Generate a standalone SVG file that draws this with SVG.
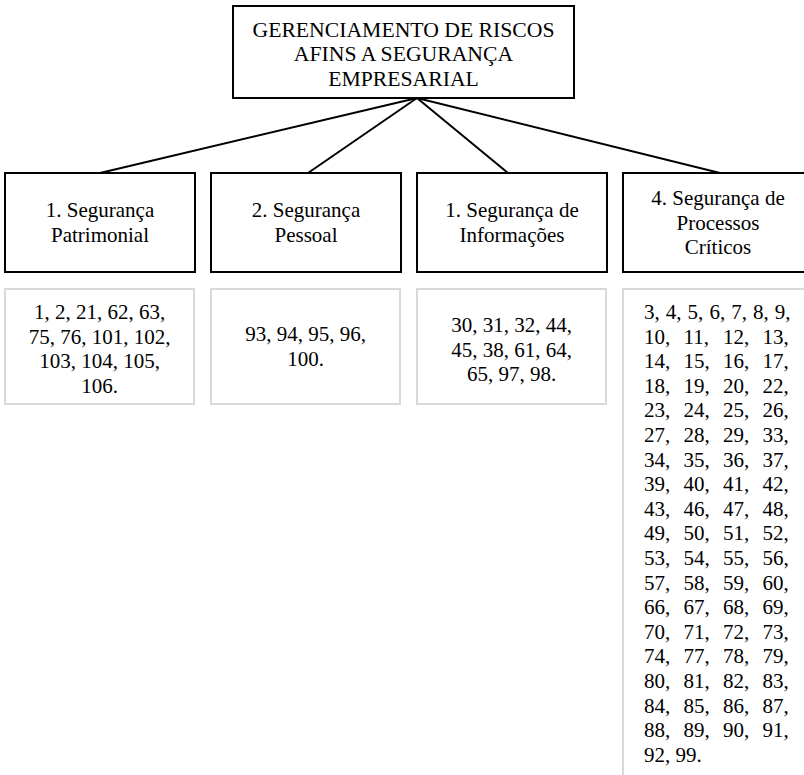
<svg xmlns="http://www.w3.org/2000/svg" width="804" height="775" viewBox="0 0 804 775" font-family="'Liberation Serif', 'Times New Roman', Times, 'DejaVu Serif', serif">
  <style>
    text { font-family: "Liberation Serif", "Times New Roman", Times, "DejaVu Serif", serif; font-size: 21px; fill: #000; }
    .c { text-anchor: middle; }
    .title { font-size: 21.7px; }
    .box { fill: #fff; stroke: #000; stroke-width: 2; }
    .list { fill: #fff; stroke: #d9d9d9; stroke-width: 2; }
    .link { stroke: #000; stroke-width: 2; fill: none; }
  </style>
  <rect width="804" height="775" fill="#fff"/>

  <!-- connectors from the root to each category -->
  <g id="connectors">
    <line class="link" x1="417" y1="98" x2="100" y2="173"/>
    <line class="link" x1="417" y1="98" x2="308" y2="173"/>
    <line class="link" x1="417" y1="98" x2="508" y2="173"/>
    <line class="link" x1="417" y1="98" x2="720" y2="173"/>
  </g>

  <g id="root">
    <rect class="box" x="233" y="6" width="341" height="92"/>
    <text class="c title" x="403.5" y="36.5">GERENCIAMENTO DE RISCOS</text>
    <text class="c title" x="403.5" y="61">AFINS A SEGURANÇA</text>
    <text class="c title" x="403.5" y="85.5">EMPRESARIAL</text>
  </g>

  <g id="cat1">
    <rect class="box" x="5" y="173" width="190" height="99"/>
    <text class="c" x="100" y="217">1. Segurança</text>
    <text class="c" x="100" y="241.6">Patrimonial</text>
  </g>
  <g id="cat2">
    <rect class="box" x="211" y="173" width="190" height="99"/>
    <text class="c" x="306" y="217">2. Segurança</text>
    <text class="c" x="306" y="241.6">Pessoal</text>
  </g>
  <g id="cat3">
    <rect class="box" x="417" y="173" width="190" height="99"/>
    <text class="c" x="512" y="217">1. Segurança de</text>
    <text class="c" x="512" y="241.6">Informações</text>
  </g>
  <g id="cat4">
    <rect class="box" x="623" y="173" width="190" height="99"/>
    <text class="c" x="718" y="205">4. Segurança de</text>
    <text class="c" x="718" y="229.6">Processos</text>
    <text class="c" x="718" y="254.2">Críticos</text>
  </g>

  <g id="list1">
    <rect class="list" x="5" y="289" width="189" height="115"/>
    <text class="c" x="99.5" y="319">1, 2, 21, 62, 63,</text>
    <text class="c" x="99.5" y="343.6">75, 76, 101, 102,</text>
    <text class="c" x="99.5" y="368.2">103, 104, 105,</text>
    <text class="c" x="99.5" y="392.8">106.</text>
  </g>
  <g id="list2">
    <rect class="list" x="211" y="289" width="189" height="115"/>
    <text class="c" x="305.5" y="341">93, 94, 95, 96,</text>
    <text class="c" x="305.5" y="365.6">100.</text>
  </g>
  <g id="list3">
    <rect class="list" x="417" y="289" width="189" height="115"/>
    <text class="c" x="511.5" y="332">30, 31, 32, 44,</text>
    <text class="c" x="511.5" y="356.6">45, 38, 61, 64,</text>
    <text class="c" x="511.5" y="381.2">65, 97, 98.</text>
  </g>
  <g id="list4">
    <rect class="list" x="623" y="289" width="190" height="500"/>
    <text x="644" y="319" word-spacing="0.8">3, 4, 5, 6, 7, 8, 9,</text>
    <text y="343.6"><tspan x="644">10,</tspan><tspan x="683.5">11,</tspan><tspan x="723">12,</tspan><tspan x="762.5">13,</tspan></text>
    <text y="368.2"><tspan x="644">14,</tspan><tspan x="683.5">15,</tspan><tspan x="723">16,</tspan><tspan x="762.5">17,</tspan></text>
    <text y="392.8"><tspan x="644">18,</tspan><tspan x="683.5">19,</tspan><tspan x="723">20,</tspan><tspan x="762.5">22,</tspan></text>
    <text y="417.4"><tspan x="644">23,</tspan><tspan x="683.5">24,</tspan><tspan x="723">25,</tspan><tspan x="762.5">26,</tspan></text>
    <text y="442"><tspan x="644">27,</tspan><tspan x="683.5">28,</tspan><tspan x="723">29,</tspan><tspan x="762.5">33,</tspan></text>
    <text y="466.6"><tspan x="644">34,</tspan><tspan x="683.5">35,</tspan><tspan x="723">36,</tspan><tspan x="762.5">37,</tspan></text>
    <text y="491.2"><tspan x="644">39,</tspan><tspan x="683.5">40,</tspan><tspan x="723">41,</tspan><tspan x="762.5">42,</tspan></text>
    <text y="515.8"><tspan x="644">43,</tspan><tspan x="683.5">46,</tspan><tspan x="723">47,</tspan><tspan x="762.5">48,</tspan></text>
    <text y="540.4"><tspan x="644">49,</tspan><tspan x="683.5">50,</tspan><tspan x="723">51,</tspan><tspan x="762.5">52,</tspan></text>
    <text y="565"><tspan x="644">53,</tspan><tspan x="683.5">54,</tspan><tspan x="723">55,</tspan><tspan x="762.5">56,</tspan></text>
    <text y="589.6"><tspan x="644">57,</tspan><tspan x="683.5">58,</tspan><tspan x="723">59,</tspan><tspan x="762.5">60,</tspan></text>
    <text y="614.2"><tspan x="644">66,</tspan><tspan x="683.5">67,</tspan><tspan x="723">68,</tspan><tspan x="762.5">69,</tspan></text>
    <text y="638.8"><tspan x="644">70,</tspan><tspan x="683.5">71,</tspan><tspan x="723">72,</tspan><tspan x="762.5">73,</tspan></text>
    <text y="663.4"><tspan x="644">74,</tspan><tspan x="683.5">77,</tspan><tspan x="723">78,</tspan><tspan x="762.5">79,</tspan></text>
    <text y="688"><tspan x="644">80,</tspan><tspan x="683.5">81,</tspan><tspan x="723">82,</tspan><tspan x="762.5">83,</tspan></text>
    <text y="712.6"><tspan x="644">84,</tspan><tspan x="683.5">85,</tspan><tspan x="723">86,</tspan><tspan x="762.5">87,</tspan></text>
    <text y="737.2"><tspan x="644">88,</tspan><tspan x="683.5">89,</tspan><tspan x="723">90,</tspan><tspan x="762.5">91,</tspan></text>
    <text x="644" y="761.8">92, 99.</text>
  </g>
</svg>
